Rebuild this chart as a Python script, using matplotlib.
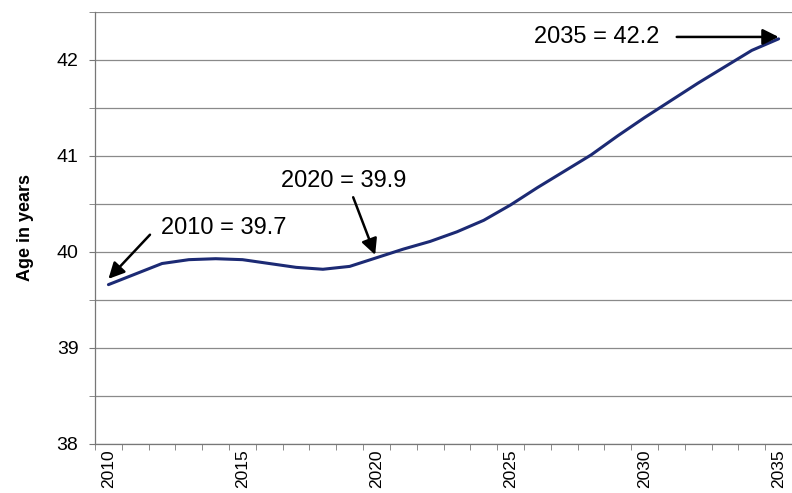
import matplotlib
matplotlib.use('agg')
import matplotlib.pyplot as plt
import numpy as np

years = list(range(2010, 2036))
median_age = [39.66, 39.77, 39.88, 39.92, 39.93, 39.92, 39.88, 39.84, 39.82, 39.85,
              39.94, 40.03, 40.11, 40.21, 40.33, 40.49, 40.67, 40.84, 41.01, 41.21,
              41.40, 41.58, 41.76, 41.93, 42.10, 42.22]
tick_years = [2010, 2015, 2020, 2025, 2030, 2035]
y_ticks = [38, 39, 40, 41, 42]

# label text and where it sits (x, y), arrow tail and arrow tip
callout_text = ['2010 = 39.7', '2020 = 39.9', '2035 = 42.2']
callout_pos = [(2011.95, 40.25), (2018.79, 40.74), (2028.23, 42.24)]
arrow_tail = [(2011.55, 40.18), (2019.13, 40.57), (2031.2, 42.24)]
arrow_tip = [(2010.0, 39.72), (2019.95, 39.97), (2035.0, 42.24)]
callout_ha = ['left', 'center', 'center']

plt.rcParams['font.family'] = ['Liberation Sans', 'DejaVu Sans']

fig = plt.figure(figsize=(7.92, 4.93), dpi=100)
ax = fig.add_axes([0.12, 0.0994, 0.88, 0.8763])

ax.plot(years, median_age, color='#1c2a74', lw=2.2, solid_capstyle='round')

ax.set_xlim(2009.5, 2035.5)
ax.set_ylim(38, 42.5)
ax.set_yticks(y_ticks)
ax.set_yticks(np.arange(38, 42.51, 0.5), minor=True)
ax.set_xticks(tick_years)
ax.set_xticks(np.arange(2009.5, 2036, 1), minor=True)
ax.tick_params(axis='x', which='major', length=0, pad=4, labelrotation=90,
               labelsize=12.5)
ax.tick_params(axis='x', which='minor', length=4, color='#777777')
ax.tick_params(axis='y', which='both', length=4, color='#777777', labelsize=14,
               pad=8)
ax.grid(True, axis='y', which='both', color='#8a8a8a', lw=0.9)

for side in ['top', 'right']:
    ax.spines[side].set_visible(False)
for side in ['left', 'bottom']:
    ax.spines[side].set_color('#777777')
    ax.spines[side].set_linewidth(0.9)

ax.set_ylabel('Age in years', fontsize=13, fontweight='bold', labelpad=16)

for text, pos, ha, tail, tip in zip(callout_text, callout_pos, callout_ha,
                                    arrow_tail, arrow_tip):
    ax.text(pos[0], pos[1], text, fontsize=17, ha=ha, va='center')
    ax.annotate('', xy=tip, xytext=tail,
                arrowprops=dict(arrowstyle='-|>', color='black', lw=1.8,
                                mutation_scale=24, shrinkA=0, shrinkB=0))

fig.savefig('out.png', dpi=100)
